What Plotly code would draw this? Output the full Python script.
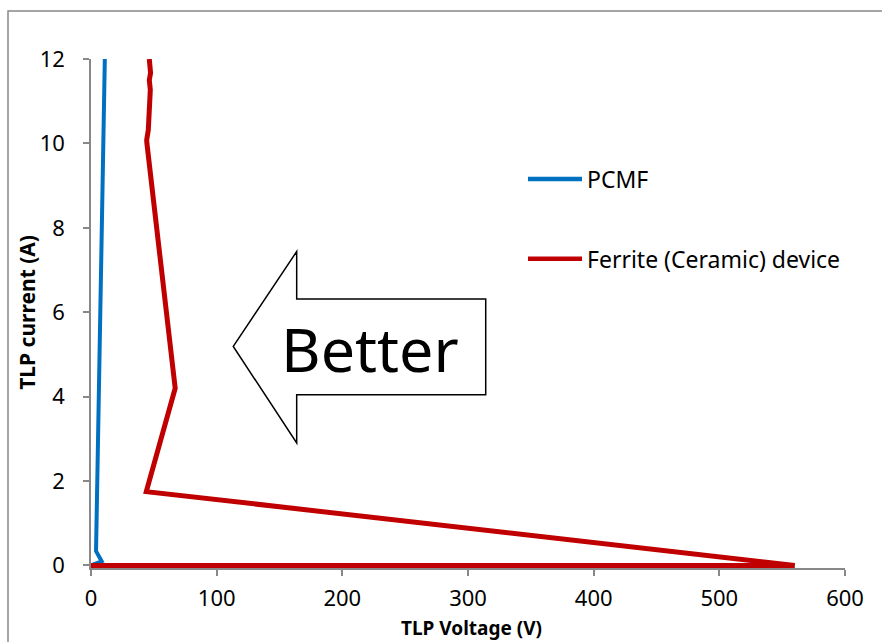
import plotly.graph_objects as go

# ---- data ----
pcmf_v = [0, 8.5, 4.0, 11.0]
pcmf_i = [0, 0.10, 0.34, 12.0]

ferrite_v = [0, 560, 44, 67, 44.5, 44.3, 45.6, 46.0, 45.6, 47.0, 47.2, 46.4, 47.4, 46.4]
ferrite_i = [0, 0.0, 1.75, 4.2, 10.0, 10.08, 10.32, 10.56, 10.79, 11.03, 11.27, 11.5, 11.67, 12.0]

series_names = ["PCMF", "Ferrite (Ceramic) device"]
series_colors = ["#0070C0", "#C00000"]

x_ticks = [0, 100, 200, 300, 400, 500, 600]
y_ticks = [0, 2, 4, 6, 8, 10, 12]

FONT = "Noto Sans"
AXIS_COLOR = "#888888"

fig = go.Figure()
fig.add_trace(go.Scatter(x=pcmf_v, y=pcmf_i, mode="lines", name=series_names[0],
                         line=dict(color=series_colors[0], width=4), showlegend=False))
fig.add_trace(go.Scatter(x=ferrite_v, y=ferrite_i, mode="lines", name=series_names[1],
                         line=dict(color=series_colors[1], width=5), showlegend=False))

# plot area geometry helpers (paper coordinates)
L, T, W, H = 91, 59, 754, 509.5
def px(xp):
    return (xp - L) / W
def py(yp):
    return (T + H - yp) / H

shapes = []
# outer chart frame
shapes.append(dict(type="rect", xref="paper", yref="paper",
                   x0=px(8), x1=px(895), y0=py(655), y1=py(11),
                   line=dict(color=AXIS_COLOR, width=1.5), layer="below"))
# legend lines + labels
annotations = []
for name, color, yy in zip(series_names, series_colors, [179, 259]):
    shapes.append(dict(type="line", xref="paper", yref="paper",
                       x0=px(528), x1=px(582), y0=py(yy), y1=py(yy),
                       line=dict(color=color, width=4.5)))
    annotations.append(dict(text=name, xref="paper", yref="paper",
                            x=px(585), y=py(yy), xanchor="left", yanchor="middle",
                            showarrow=False, font=dict(family=FONT, size=23, color="black")))

# "Better" block arrow
arrow_pts = [(233.3, 346.7), (296.7, 251.7), (296.7, 299.3), (485.7, 299.3),
             (485.7, 395), (296.7, 395), (296.7, 443.3)]
path = "M " + " L ".join(f"{px(a):.4f},{py(b):.4f}" for a, b in arrow_pts) + " Z"
shapes.append(dict(type="path", xref="paper", yref="paper", path=path,
                   fillcolor="white", line=dict(color="black", width=1.5)))
annotations.append(dict(text="Better", xref="paper", yref="paper", x=px(370), y=py(349),
                        xanchor="center", yanchor="middle", showarrow=False,
                        font=dict(family=FONT, size=61, color="black")))

# axis titles
annotations.append(dict(text="TLP Voltage (V)", xref="paper", yref="paper", x=px(471), y=py(629),
                        xanchor="center", yanchor="middle", showarrow=False,
                        font=dict(family=FONT, size=19, color="black", weight="bold")))
annotations.append(dict(text="TLP current (A)", xref="paper", yref="paper", x=px(27), y=py(313),
                        xanchor="center", yanchor="middle", showarrow=False, textangle=-90,
                        font=dict(family=FONT, size=21, color="black", weight="bold")))

fig.update_layout(
    width=882, height=642,
    margin=dict(l=L, r=882 - L - W, t=T, b=642 - T - H),
    paper_bgcolor="white", plot_bgcolor="white",
    shapes=shapes, annotations=annotations,
    font=dict(family=FONT, color="black"),
)
fig.update_xaxes(range=[0, 600], tickvals=x_ticks, ticks="outside", ticklen=6, tickwidth=1.5,
                 tickcolor=AXIS_COLOR, showline=True, linecolor=AXIS_COLOR, linewidth=1.5,
                 showgrid=False, zeroline=False, layer="below traces",
                 tickfont=dict(family=FONT, size=22, color="black"), ticklabelstandoff=4)
fig.update_yaxes(range=[-0.06, 12], tickvals=y_ticks, ticks="outside", ticklen=6, tickwidth=1.5,
                 tickcolor=AXIS_COLOR, showline=True, linecolor=AXIS_COLOR, linewidth=1.5,
                 showgrid=False, zeroline=False, layer="below traces",
                 tickfont=dict(family=FONT, size=22, color="black"), ticklabelstandoff=14)

fig.write_html("out.html")
